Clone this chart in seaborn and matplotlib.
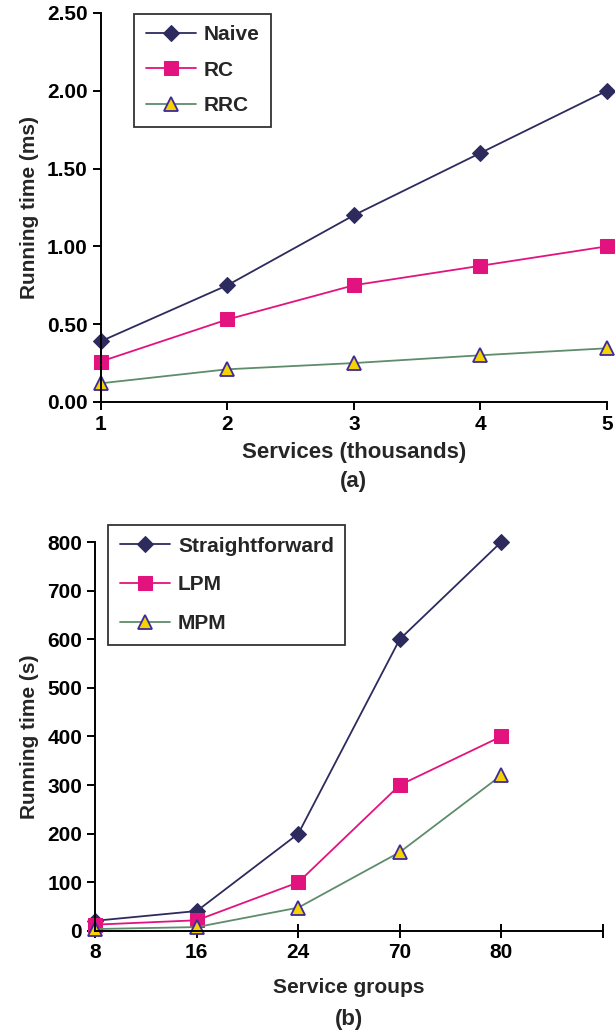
import numpy as np
import pandas as pd
import matplotlib
matplotlib.use("Agg")
import matplotlib.pyplot as plt
import seaborn as sns

# data, panel (a)
services = [1, 2, 3, 4, 5]
naive = [0.39, 0.75, 1.20, 1.60, 2.00]
rc = [0.26, 0.53, 0.75, 0.875, 1.00]
rrc = [0.12, 0.21, 0.25, 0.30, 0.345]

# data, panel (b)
groups = ["8", "16", "24", "70", "80"]
straightforward = [21, 41, 200, 600, 800]
lpm = [13, 22, 100, 300, 400]
mpm = [4, 8, 48, 162, 320]

sns.set_style("ticks")
plt.rcParams['font.family'] = ['Liberation Sans', 'DejaVu Sans']
plt.rcParams['font.weight'] = 'bold'

navy = '#2d2b5e'
pink = '#e2137f'
green = '#5f8c6c'
yellow = '#f6d200'
tri_edge = '#3b2a99'

styles = [
    dict(color=navy, marker='D', markersize=8, markerfacecolor=navy, markeredgecolor=navy),
    dict(color=pink, marker='s', markersize=10, markerfacecolor=pink, markeredgecolor=pink),
    dict(color=green, marker='^', markersize=10, markerfacecolor=yellow,
         markeredgecolor=tri_edge, markeredgewidth=1.3),
]

fig = plt.figure(figsize=(6.15, 10.32), dpi=100)
ax1 = fig.add_axes([0.164, 0.6105, 0.823, 0.377])
ax2 = fig.add_axes([0.155, 0.0979, 0.825, 0.3769])


def style_axes(ax):
    sns.despine(ax=ax)
    for s in ['left', 'bottom']:
        ax.spines[s].set_linewidth(1.4)
        ax.spines[s].set_color('black')
    ax.tick_params(axis='both', labelsize=15, width=1.4, length=6, colors='black')
    for lab in ax.get_xticklabels() + ax.get_yticklabels():
        lab.set_fontweight('bold')


def make_legend(ax, anchor, spacing):
    leg = ax.legend(loc='upper left', bbox_to_anchor=anchor, fontsize=15, frameon=True,
                    fancybox=False, edgecolor='black', handlelength=2.4, labelspacing=spacing,
                    borderpad=0.55, handletextpad=0.4)
    leg.get_frame().set_linewidth(1.3)
    for t in leg.get_texts():
        t.set_fontweight('bold')
    return leg


# panel (a)
for vals, name, st in zip([naive, rc, rrc], ["Naive", "RC", "RRC"], styles):
    sns.lineplot(x=services, y=vals, ax=ax1, label=name, linewidth=1.3, clip_on=False, **st)
ax1.set_xlim(1, 5)
ax1.set_ylim(0, 2.5)
ax1.set_xticks(services)
ax1.set_yticks(np.arange(0, 2.51, 0.5))
ax1.set_yticklabels([f"{v:.2f}" for v in np.arange(0, 2.51, 0.5)])
ax1.set_xlabel("Services (thousands)", fontsize=16, fontweight='bold', labelpad=6)
ax1.set_ylabel("Running time (ms)", fontsize=15, fontweight='bold', labelpad=6)
style_axes(ax1)
make_legend(ax1, (0.045, 1.025), 0.8)
fig.text(0.5 * (0.164 + 0.987), 1 - 482 / 1032, "(a)", ha='center', va='center',
         fontsize=16, fontweight='bold')

# panel (b)
pos = np.arange(len(groups))
for vals, name, st in zip([straightforward, lpm, mpm], ["Straightforward", "LPM", "MPM"], styles):
    sns.lineplot(x=pos, y=vals, ax=ax2, label=name, linewidth=1.3, clip_on=False, **st)
ax2.set_xlim(0, len(groups))
ax2.set_ylim(0, 800)
ax2.set_xticks(np.arange(len(groups) + 1))
ax2.set_xticklabels(groups + [""])
ax2.set_yticks(np.arange(0, 801, 100))
ax2.set_xlabel("Service groups", fontsize=15, fontweight='bold', labelpad=12)
ax2.set_ylabel("Running time (s)", fontsize=15, fontweight='bold', labelpad=6)
style_axes(ax2)
ax2.tick_params(axis='x', direction='inout', length=10)
make_legend(ax2, (0.005, 1.07), 0.95)
fig.text(0.5 * (0.155 + 0.98), 1 - 1019 / 1032, "(b)", ha='center', va='center',
         fontsize=16, fontweight='bold')

fig.savefig("out.png", dpi=100)
